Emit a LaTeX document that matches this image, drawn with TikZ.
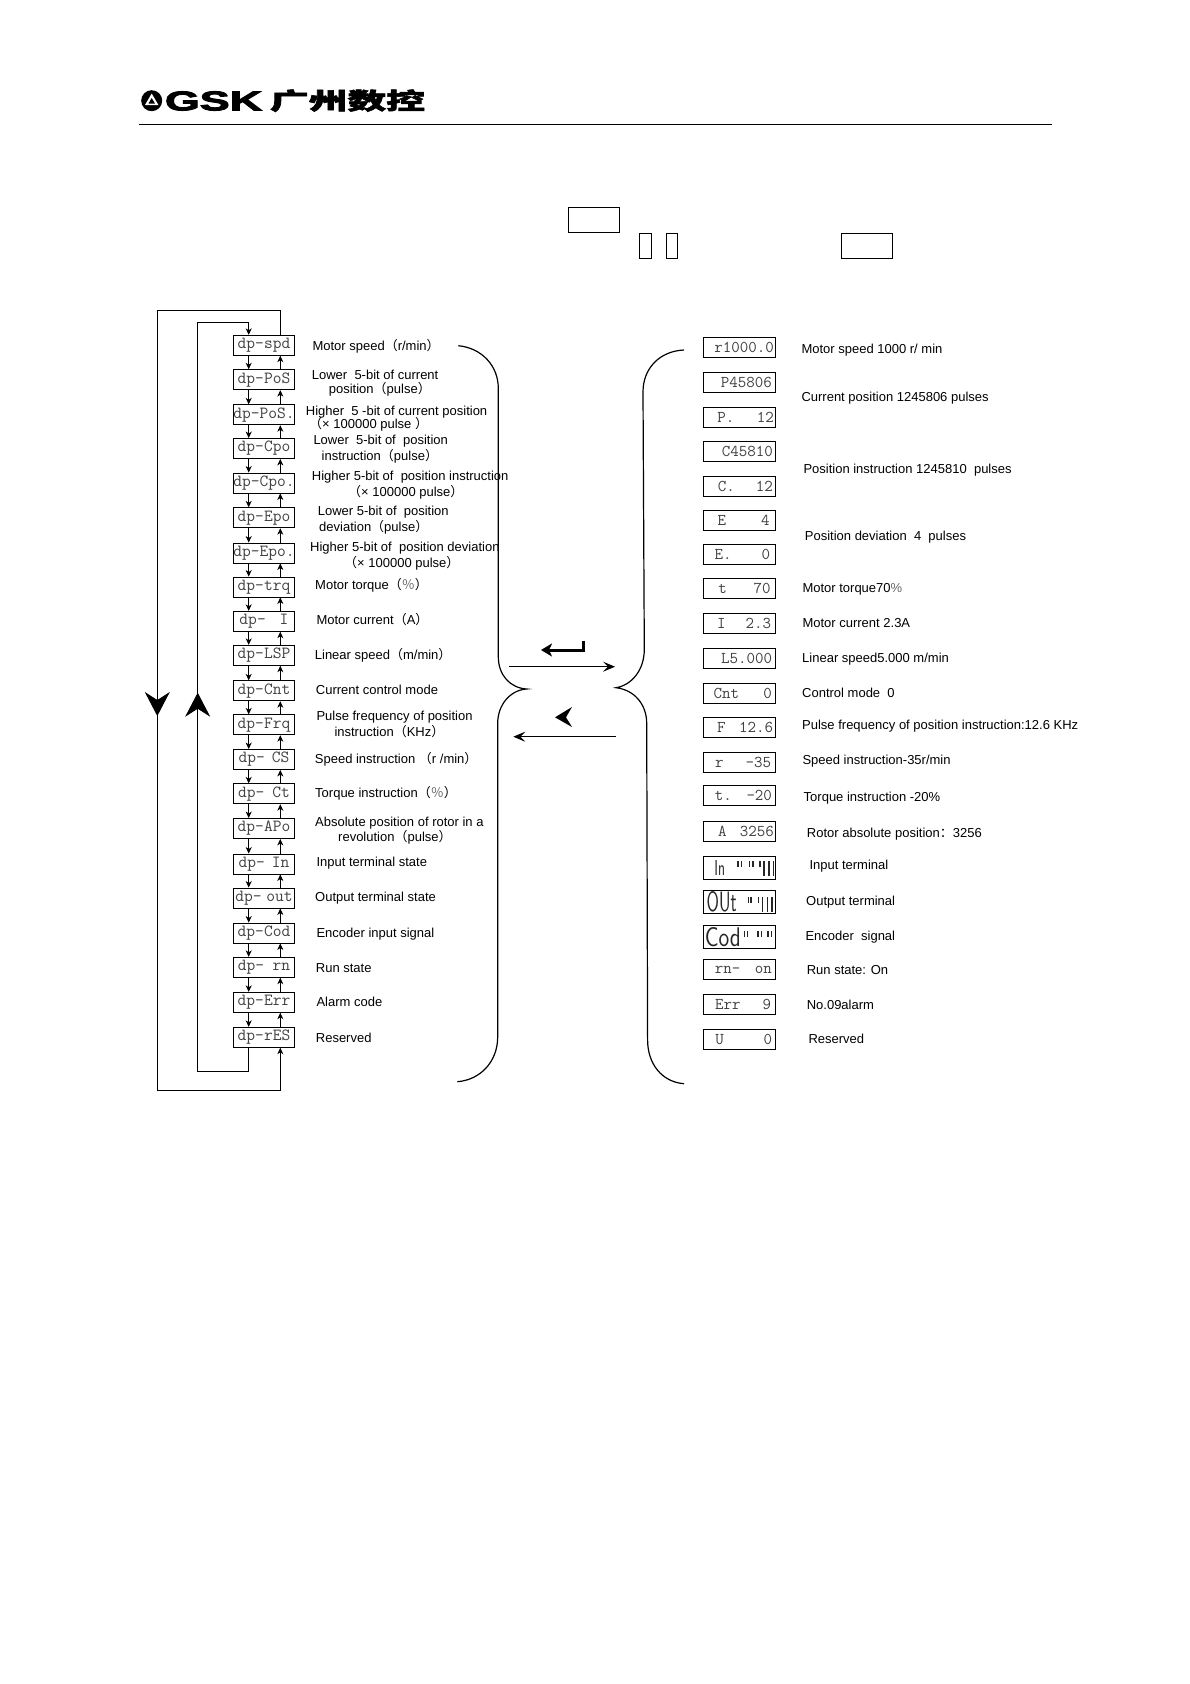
\documentclass[tikz,border=0pt]{standalone}
\usepackage{graphicx}
\usepackage{fontspec}
\setmainfont{Liberation Sans}
\newfontfamily\cjk{Noto Sans CJK SC}
\newfontfamily\cjkheavy[FakeBold=2]{Noto Sans CJK SC}
\newfontfamily\gskfont[FakeBold=3]{Liberation Sans}
\usetikzlibrary{arrows.meta,positioning}
\newcommand{\zkl}{{\cjk （}}
\newcommand{\zkr}{{\cjk ）}}
\newcommand{\zkc}{{\cjk ：}}
\newcommand{\zkp}{{\cjk\color{black!60}％}}
\newcommand{\segtop}{\rule[9pt]{1.3pt}{6pt}}
\newcommand{\segfull}{\rule{1.3pt}{15pt}}

\begin{document}
\begin{tikzpicture}[
    x=1pt, y=-1pt,
    >={Stealth[length=6.5pt,width=6pt,inset=2pt]},
    dpbox/.style={draw, line width=0.9pt, minimum width=61.3pt, minimum height=20pt, inner sep=0pt, text=black!75, font=\ttfamily\fontsize{17}{17}\selectfont},
    valbox/.style={draw, line width=0.9pt, text width=69pt, inner xsep=1.5pt, inner ysep=0pt, minimum height=20pt, align=right, text=black!75, font=\ttfamily\fontsize{16.5}{16.5}\selectfont},
    segbox/.style={valbox, minimum height=23pt, align=left, text=black!85, font=\sffamily\fontsize{14}{14}\selectfont},
    keybox/.style={draw, line width=0.9pt, inner sep=0pt, minimum height=25pt},
    lbl/.style={anchor=west, inner sep=0pt, align=left, font=\fontsize{13}{14.2}\selectfont},
    link/.style={->, line width=0.8pt},
    loopline/.style={line width=0.8pt},
    bigtip/.style={-{Stealth[length=24pt,width=25pt,inset=8pt]}, line width=0.8pt},
    brace/.style={line width=1.2pt}
]
\useasboundingbox (0,0) rectangle (1190,1684);

% page head
\fill (151.7,100.7) circle (10.5);
\fill[white] (151.7,93.5) -- (145,105) -- (158.4,105) -- cycle;
\fill (151.7,98) -- (148.5,103.5) -- (154.9,103.5) -- cycle;
\node[inner sep=0pt] (gsk) at (213.5,101) {\resizebox{97pt}{19pt}{\gskfont\bfseries GSK}};
\node[inner sep=0pt] (gskcn) at (347.5,100.7) {\resizebox{155pt}{20pt}{\cjkheavy\bfseries 广州数控}};
\coordinate (headl) at (139,124);
\coordinate (headr) at (1052,124);
\draw[line width=0.9pt] (headl) -- (headr);

% key frames
\node[keybox, minimum width=51pt] (keya) at (593.8,219.8) {};
\node[keybox, minimum width=12.4pt] (keyb) at (645.5,245.8) {};
\node[keybox, minimum width=11.4pt] (keyc) at (672,245.8) {};
\node[keybox, minimum width=51.4pt] (keyd) at (867,245.8) {};

% left column
\node[dpbox] (spd) at (264,345.3) {dp–spd};
\node[dpbox] (posl) at (264,379.7) {dp–PoS};
\node[dpbox] (posh) at (264,414.8) {dp–PoS.};
\node[dpbox] (cpol) at (264,448.5) {dp–Cpo};
\node[dpbox] (cpoh) at (264,483) {dp–Cpo.};
\node[dpbox] (epol) at (264,517.8) {dp–Epo};
\node[dpbox] (epoh) at (264,553) {dp–Epo.};
\node[dpbox] (trq) at (264,587) {dp–trq};
\node[dpbox] (cur) at (264,621.3) {dp–\hspace{14pt}I};
\node[dpbox] (lsp) at (264,655.3) {dp–LSP};
\node[dpbox] (cnt) at (264,690.8) {dp–Cnt};
\node[dpbox] (frq) at (264,724.8) {dp–Frq};
\node[dpbox] (cs) at (264,759.5) {dp–\hspace{7pt}CS};
\node[dpbox] (ct) at (264,793.8) {dp–\hspace{8pt}Ct};
\node[dpbox] (apo) at (264,828.5) {dp–APo};
\node[dpbox] (inp) at (264,864) {dp–\hspace{7pt}In};
\node[dpbox] (outp) at (264,898) {dp–\hspace{4.8pt}out};
\node[dpbox] (cod) at (264,933) {dp–Cod};
\node[dpbox] (rn) at (264,967.3) {dp–\hspace{8.5pt}rn};
\node[dpbox] (err) at (264,1002.3) {dp–Err};
\node[dpbox] (res) at (264,1037.3) {dp–rES};

% down links
\draw[link] ([xshift=-15.3pt]spd.south) -- ([xshift=-15.3pt]posl.north);
\draw[link] ([xshift=-15.3pt]posl.south) -- ([xshift=-15.3pt]posh.north);
\draw[link] ([xshift=-15.3pt]posh.south) -- ([xshift=-15.3pt]cpol.north);
\draw[link] ([xshift=-15.3pt]cpol.south) -- ([xshift=-15.3pt]cpoh.north);
\draw[link] ([xshift=-15.3pt]cpoh.south) -- ([xshift=-15.3pt]epol.north);
\draw[link] ([xshift=-15.3pt]epol.south) -- ([xshift=-15.3pt]epoh.north);
\draw[link] ([xshift=-15.3pt]epoh.south) -- ([xshift=-15.3pt]trq.north);
\draw[link] ([xshift=-15.3pt]trq.south) -- ([xshift=-15.3pt]cur.north);
\draw[link] ([xshift=-15.3pt]cur.south) -- ([xshift=-15.3pt]lsp.north);
\draw[link] ([xshift=-15.3pt]lsp.south) -- ([xshift=-15.3pt]cnt.north);
\draw[link] ([xshift=-15.3pt]cnt.south) -- ([xshift=-15.3pt]frq.north);
\draw[link] ([xshift=-15.3pt]frq.south) -- ([xshift=-15.3pt]cs.north);
\draw[link] ([xshift=-15.3pt]cs.south) -- ([xshift=-15.3pt]ct.north);
\draw[link] ([xshift=-15.3pt]ct.south) -- ([xshift=-15.3pt]apo.north);
\draw[link] ([xshift=-15.3pt]apo.south) -- ([xshift=-15.3pt]inp.north);
\draw[link] ([xshift=-15.3pt]inp.south) -- ([xshift=-15.3pt]outp.north);
\draw[link] ([xshift=-15.3pt]outp.south) -- ([xshift=-15.3pt]cod.north);
\draw[link] ([xshift=-15.3pt]cod.south) -- ([xshift=-15.3pt]rn.north);
\draw[link] ([xshift=-15.3pt]rn.south) -- ([xshift=-15.3pt]err.north);
\draw[link] ([xshift=-15.3pt]err.south) -- ([xshift=-15.3pt]res.north);

% up links
\draw[link] ([xshift=16.3pt]posl.north) -- ([xshift=16.3pt]spd.south);
\draw[link] ([xshift=16.3pt]posh.north) -- ([xshift=16.3pt]posl.south);
\draw[link] ([xshift=16.3pt]cpol.north) -- ([xshift=16.3pt]posh.south);
\draw[link] ([xshift=16.3pt]cpoh.north) -- ([xshift=16.3pt]cpol.south);
\draw[link] ([xshift=16.3pt]epol.north) -- ([xshift=16.3pt]cpoh.south);
\draw[link] ([xshift=16.3pt]epoh.north) -- ([xshift=16.3pt]epol.south);
\draw[link] ([xshift=16.3pt]trq.north) -- ([xshift=16.3pt]epoh.south);
\draw[link] ([xshift=16.3pt]cur.north) -- ([xshift=16.3pt]trq.south);
\draw[link] ([xshift=16.3pt]lsp.north) -- ([xshift=16.3pt]cur.south);
\draw[link] ([xshift=16.3pt]cnt.north) -- ([xshift=16.3pt]lsp.south);
\draw[link] ([xshift=16.3pt]frq.north) -- ([xshift=16.3pt]cnt.south);
\draw[link] ([xshift=16.3pt]cs.north) -- ([xshift=16.3pt]frq.south);
\draw[link] ([xshift=16.3pt]ct.north) -- ([xshift=16.3pt]cs.south);
\draw[link] ([xshift=16.3pt]apo.north) -- ([xshift=16.3pt]ct.south);
\draw[link] ([xshift=16.3pt]inp.north) -- ([xshift=16.3pt]apo.south);
\draw[link] ([xshift=16.3pt]outp.north) -- ([xshift=16.3pt]inp.south);
\draw[link] ([xshift=16.3pt]cod.north) -- ([xshift=16.3pt]outp.south);
\draw[link] ([xshift=16.3pt]rn.north) -- ([xshift=16.3pt]cod.south);
\draw[link] ([xshift=16.3pt]err.north) -- ([xshift=16.3pt]rn.south);
\draw[link] ([xshift=16.3pt]res.north) -- ([xshift=16.3pt]err.south);

% outer and inner return loops
\coordinate (outa) at (280.3,310.3);
\coordinate (outb) at (157.3,310.3);
\coordinate (outc) at (157.3,716);
\coordinate (outd) at (157.3,1090);
\coordinate (oute) at (280.3,1090);
\coordinate (inna) at (248.7,1071);
\coordinate (innb) at (197.7,1071);
\coordinate (innc) at (197.7,692.7);
\coordinate (innd) at (197.7,322.7);
\coordinate (inne) at (248.7,322.7);
\draw[loopline] ([xshift=16.3pt]spd.north) -- (outa) -- (outb) -- (outc);
\draw[bigtip] (157.3,690) -- (outc);
\draw[link] (outc) -- (outd) -- (oute) -- ([xshift=16.3pt]res.south);
\draw[loopline] ([xshift=-15.3pt]res.south) -- (inna) -- (innb) -- (innc);
\draw[bigtip] (197.7,718) -- (innc);
\draw[link] (innc) -- (innd) -- (inne) -- ([xshift=-15.3pt]spd.north);

% left labels
\node[lbl] (tspd) at (312.3,346) {Motor speed\zkl r/min\zkr};
\node[lbl] (tposl) at (311.7,374.5) {Lower\ \ 5-bit of current};
\node[lbl] (tposlb) at (328.7,389) {position\zkl pulse\zkr};
\node[lbl] (tposh) at (305.7,411.7) {Higher\ \ 5 -bit of current position};
\node[lbl] (tposhb) at (309,424) {\zkl× 100000 pulse \zkr};
\node[lbl] (tcpol) at (313.3,441) {Lower\ \ 5-bit of\ \ position};
\node[lbl] (tcpolb) at (321.5,456) {instruction\zkl pulse\zkr};
\node[lbl] (tcpoh) at (311.7,477.5) {Higher\ 5-bit of\ \ position instruction};
\node[lbl] (tcpohb) at (348,492) {\zkl× 100000 pulse\zkr};
\node[lbl] (tepol) at (317.7,512.5) {Lower 5-bit of\ \ position};
\node[lbl] (tepolb) at (319,527.5) {deviation\zkl pulse\zkr};
\node[lbl] (tepoh) at (310,548.5) {Higher 5-bit of\ \ position deviation};
\node[lbl] (tepohb) at (344,563.5) {\zkl× 100000 pulse\zkr};
\node[lbl] (ttrq) at (315,585.7) {Motor torque\zkl\zkp\zkr};
\node[lbl] (tcur) at (316.3,620) {Motor current\zkl A\zkr};
\node[lbl] (tlsp) at (314.7,655) {Linear speed\zkl m/min\zkr};
\node[lbl] (tcnt) at (315.7,690) {Current control mode};
\node[lbl] (tfrq) at (316.3,717.3) {Pulse frequency of position};
\node[lbl] (tfrqb) at (334.3,732) {instruction\zkl KHz\zkr};
\node[lbl] (tcs) at (314.7,759) {Speed instruction \zkl r /min\zkr};
\node[lbl] (tct) at (315,793) {Torque instruction\zkl\zkp\zkr};
\node[lbl] (tapo) at (315,823) {Absolute position of rotor in a};
\node[lbl] (tapob) at (338,837) {revolution\zkl pulse\zkr};
\node[lbl] (tinp) at (316.3,863) {Input terminal state};
\node[lbl] (toutp) at (315,898.3) {Output terminal state};
\node[lbl] (tcod) at (316.3,933.7) {Encoder input signal};
\node[lbl] (trn) at (315.7,968) {Run state};
\node[lbl] (terr) at (316.3,1002) {Alarm code};
\node[lbl] (tres) at (315.7,1037.7) {Reserved};

% braces
\draw[brace] (458.3,345.7) .. controls (482,348) and (498.3,366) .. (498.3,388.3) -- (498.3,656.7) .. controls (498.3,675) and (510,688) .. (526.7,689) .. controls (510,690) and (497.7,705) .. (497.7,723.3) -- (497.7,1036.7) .. controls (497.7,1062) and (480,1080) .. (457.3,1081.7);
\draw[brace] (684,350) .. controls (660,351) and (643,368) .. (643,392) -- (644.3,650) .. controls (644,670) and (632,685) .. (616,687.7) .. controls (635,690) and (646.7,705) .. (646.7,723.3) -- (647.6,1040) .. controls (647.6,1064) and (662,1082) .. (684,1083.7);

% keys between the braces
\coordinate (enta) at (583.3,640.7);
\coordinate (entb) at (583.3,650);
\coordinate (entc) at (541,650);
\draw[line width=3pt, -{Stealth[length=11pt,width=13pt,inset=3pt]}] (enta) -- (entb) -- (entc);
\coordinate (fwda) at (509.3,666.7);
\coordinate (fwdb) at (615,666.7);
\draw[line width=0.8pt, -{Stealth[length=12pt,width=10pt,inset=5pt]}] (fwda) -- (fwdb);
\fill (555,717.3) -- (572,707) -- (566,717.3) -- (572,727) -- cycle;
\coordinate (baca) at (615.7,736.7);
\coordinate (bacb) at (513.3,736.7);
\draw[line width=0.8pt, -{Stealth[length=12pt,width=10pt,inset=5pt]}] (baca) -- (bacb);

% right column
\node[valbox] (vspd) at (739.3,347.3) {r1000.0};
\node[valbox] (vposl) at (739.3,382.3) {P45806\hspace*{2pt}};
\node[valbox] (vposh) at (739.3,417) {P.\hspace{22.4pt}12};
\node[valbox] (vcpol) at (739.3,451.5) {C45810\hspace*{1pt}};
\node[valbox] (vcpoh) at (739.3,486) {C.\hspace{21pt}12\hspace*{1pt}};
\node[valbox] (vepol) at (739.8,520.5) {E\hspace{35pt}4\hspace*{4.8pt}};
\node[valbox] (vepoh) at (739.3,554.8) {E.\hspace{30pt}0\hspace*{3.8pt}};
\node[valbox] (vtrq) at (739.8,588.8) {t\hspace{26.6pt}70\hspace*{3.8pt}};
\node[valbox] (vcur) at (739.3,623.3) {I\hspace{20pt}2.3\hspace*{2.8pt}};
\node[valbox] (vlsp) at (739.3,658.7) {L5.000\hspace*{1.8pt}};
\node[valbox] (vcnt) at (739.3,693.3) {Cnt\hspace{24.3pt}0\hspace*{1.8pt}};
\node[valbox] (vfrq) at (739.3,727.3) {F\hspace{13.5pt}12.6\hspace*{0.8pt}};
\node[valbox] (vcs) at (739.3,762.5) {r\hspace{22pt}–35\hspace*{2.8pt}};
\node[valbox] (vct) at (739.3,795) {t.\hspace{14.7pt}–20\hspace*{1.8pt}};
\node[valbox] (vapo) at (739.3,831.5) {A\hspace{13.3pt}3256};
\node[segbox] (vinp) at (739.8,868) {\hspace*{9pt}\resizebox{10.7pt}{15pt}{In}\hspace{12.3pt}\segtop\hspace{2pt}\segtop\hspace{7pt}\segtop\hspace{2pt}\segtop\hspace{5.7pt}\segtop\hspace{2.7pt}\segfull\hspace{3.7pt}\segfull\hspace{3pt}\segfull};
\node[segbox] (voutp) at (739.3,902) {\hspace*{1.8pt}\resizebox{30pt}{20pt}{OUt}\hspace{11pt}\segtop\hspace{1.4pt}\segtop\hspace{6pt}\segtop\hspace{2.7pt}\segfull\hspace{4pt}\segfull\hspace{3pt}\segfull};
\node[segbox] (vcod) at (739.3,936.8) {\resizebox{36pt}{19pt}{Cod}\hspace{3pt}\segtop\hspace{2pt}\segtop\hspace{9pt}\segtop\hspace{2pt}\segtop\hspace{5.4pt}\segtop\hspace{2pt}\segtop};
\node[valbox] (vrn) at (739.3,969.5) {rn–\hspace{14.7pt}on\hspace*{1.8pt}};
\node[valbox] (verr) at (739.3,1004.7) {Err\hspace{22pt}9\hspace*{2.8pt}};
\node[valbox] (vres) at (739.3,1039.5) {U\hspace{39.7pt}0\hspace*{1.8pt}};

% right labels
\node[lbl] (rspd) at (801.3,350) {Motor speed 1000 r/ min};
\node[lbl] (rpos) at (801.3,398) {Current position 1245806 pulses};
\node[lbl] (rcpo) at (803.3,470.5) {Position instruction 1245810\ \ pulses};
\node[lbl] (repo) at (804.7,537) {Position deviation\ \ 4\ \ pulses};
\node[lbl] (rtrq) at (802.3,589) {Motor torque70\textcolor{black!60}{\%}};
\node[lbl] (rcur) at (802.3,623.3) {Motor current 2.3A};
\node[lbl] (rlsp) at (802,658.7) {Linear speed5.000 m/min};
\node[lbl] (rcnt) at (802,693) {Control mode\ \ 0};
\node[lbl] (rfrq) at (802,726) {Pulse frequency of position instruction:12.6 KHz};
\node[lbl] (rcs) at (802.3,761) {Speed instruction-35r/min};
\node[lbl] (rct) at (803.5,798.5) {Torque instruction -20\%};
\node[lbl] (rapo) at (806.7,834) {Rotor absolute position\zkc 3256};
\node[lbl] (rinp) at (809.3,866.5) {Input terminal};
\node[lbl] (routp) at (806,902) {Output terminal};
\node[lbl] (rcod) at (805.3,937) {Encoder\ \ signal};
\node[lbl] (rrn) at (806.6,970) {Run state: On};
\node[lbl] (rerr) at (806.6,1005) {No.09alarm};
\node[lbl] (rres) at (808.3,1039) {Reserved};
\end{tikzpicture}
\end{document}
